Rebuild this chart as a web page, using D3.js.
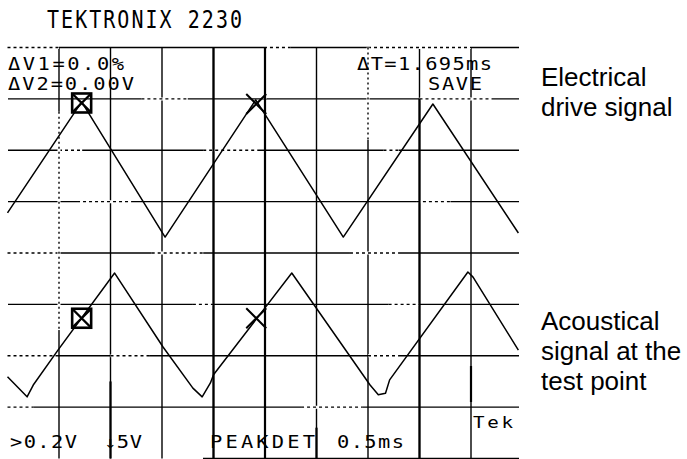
<!DOCTYPE html>
<html><head><meta charset="utf-8">
<script src="https://cdn.jsdelivr.net/npm/d3@7"></script>
<style>html,body{margin:0;padding:0;background:#fff;} svg{display:block;}</style>
</head><body>
<svg id="c" width="687" height="459"></svg>
<script>
// ---- data (time in ms, amplitude in screen divisions) ----
const msPerDiv = 0.5;
const hDivs = d3.range(1, 10);          // vertical graticule lines (time divisions)
const vDivs = d3.range(-4, 5);          // horizontal graticule lines (amplitude divisions)

const driveT = [0, 0.72, 1.53, 2.41, 3.26, 4.13, 4.96];
const driveV = [0.78, 2.94, 0.31, 2.98, 0.31, 2.90, 0.39];

const acousT = [0, 0.19, 0.25, 0.49, 1.04, 1.51, 1.80, 1.89, 1.97, 2.00, 2.76, 3.52, 3.60, 3.67, 3.71, 4.47, 4.52, 4.96];
const acousV = [-2.41, -2.80, -2.57, -1.89, -0.39, -1.83, -2.63, -2.80, -2.53, -2.37, -0.39, -2.57, -2.76, -2.73, -2.47, -0.37, -0.47, -1.89];

const cursorT = [0.72, 2.415];
const cursorDriveV = [2.92, 2.90];
const cursorAcousV = [-1.27, -1.27];

const titleText = "TEKTRONIX 2230";
const readoutTexts = ["ΔV1=0.0%", "ΔV2=0.00V", "ΔT=1.695ms", "SAVE", ">0.2V", "↓5V", "PEAKDET", "0.5ms"];
const tekText = "Tek";
const labelDrive = ["Electrical", "drive signal"];
const labelAcous = ["Acoustical", "signal at the", "test point"];

// ---- scales ----
const x = d3.scaleLinear().domain([0, 10 * msPerDiv]).range([7.5, 522.5]);
const y = d3.scaleLinear().domain([-4, 4]).range([458.5, 47.5]);
const xRight = 519;

const svg = d3.select("#c");
svg.append("defs").append("clipPath").attr("id", "scr")
  .append("rect").attr("x", 0).attr("y", 0).attr("width", xRight).attr("height", 459);

const g = svg.append("g").attr("clip-path", "url(#scr)");

// horizontal graticule
g.selectAll("line.h").data(vDivs).join("line")
  .attr("x1", d => d === -4 ? 203 : 8).attr("x2", xRight)
  .attr("y1", d => y(d)).attr("y2", d => y(d))
  .attr("stroke", "#000").attr("stroke-width", 1.4);

// vertical graticule
g.selectAll("line.v").data(hDivs).join("line")
  .attr("x1", d => x(d * msPerDiv)).attr("x2", d => x(d * msPerDiv))
  .attr("y1", y(4)).attr("y2", y(-4))
  .attr("stroke", "#000").attr("stroke-width", 1.4);

// dotted (faded) graticule segments: [amplitude div, from time div, to time div]
const hDots = [[4,0,1],[4,4.98,5.5],[4,7,9],[3,2.6,3.5],[3,8,9.4],[2,1.0,1.45],[2,3.8,4.85],[2,7.3,7.6],
  [1,1.35,2.4],[1,7.95,8.6],[0,0,0.98],[0,2.8,3.8],[0,6.65,7.6],[-1,3.6,4.0],[-1,7.4,8.0],
  [-2,0,0.98],[-2,2,2.75],[-2,7.0,7.6],[-3,0,0.5],[-3,5.7,6.9]];
hDots.forEach(([v, a, b]) => {
  g.append("line").attr("x1", x(a*msPerDiv)).attr("x2", x(b*msPerDiv)).attr("y1", y(v)).attr("y2", y(v))
    .attr("stroke", "#fff").attr("stroke-width", 3);
  g.append("line").attr("x1", x(a*msPerDiv)).attr("x2", x(b*msPerDiv)).attr("y1", y(v)).attr("y2", y(v))
    .attr("stroke", "#000").attr("stroke-width", 1.4).attr("stroke-dasharray", "3,3");
});
// vertical dotted segments: [time div, from amp, to amp]
const vDots = [[1, 2.75, -1.5], [7, 4, 2.2], [5, 3.7, 3.0]];
vDots.forEach(([t, a, b]) => {
  g.append("line").attr("x1", x(t*msPerDiv)).attr("x2", x(t*msPerDiv)).attr("y1", y(a)).attr("y2", y(b))
    .attr("stroke", "#fff").attr("stroke-width", 3);
  g.append("line").attr("x1", x(t*msPerDiv)).attr("x2", x(t*msPerDiv)).attr("y1", y(a)).attr("y2", y(b))
    .attr("stroke", "#000").attr("stroke-width", 1.4).attr("stroke-dasharray", "2,3");
});
// thicker (cursor-highlighted) vertical segments: [time div, from amp, to amp]
const vThick = [[4, 4, -4], [5, 4, -4], [8, 3, -4], [2, -2.5, -4], [6, -3.4, -4], [9, -2.2, -2.9]];
vThick.forEach(([t, a, b]) => {
  g.append("line").attr("x1", x(t*msPerDiv)).attr("x2", x(t*msPerDiv)).attr("y1", y(a)).attr("y2", y(b))
    .attr("stroke", "#000").attr("stroke-width", 2.2);
});

// traces
const line = d3.line().x(d => x(d[0])).y(d => y(d[1]));
g.append("path").datum(driveT.map((t, i) => [t, driveV[i]]))
  .attr("d", line).attr("fill", "none").attr("stroke", "#000").attr("stroke-width", 1.5)
  .attr("stroke-linejoin", "round");
g.append("path").datum(acousT.map((t, i) => [t, acousV[i]]))
  .attr("d", line).attr("fill", "none").attr("stroke", "#000").attr("stroke-width", 1.5)
  .attr("stroke-linejoin", "round");

// cursor markers: box at first cursor, X at second
[cursorDriveV[0], cursorAcousV[0]].forEach(v => {
  const cx = x(cursorT[0]), cy = y(v), s = 9.5;
  g.append("rect").attr("x", cx - s).attr("y", cy - s).attr("width", 2*s).attr("height", 2*s)
    .attr("fill", "none").attr("stroke", "#000").attr("stroke-width", 2.6);
  g.append("path").attr("d", `M${cx-s},${cy-s}L${cx+s},${cy+s}M${cx+s},${cy-s}L${cx-s},${cy+s}`)
    .attr("stroke", "#000").attr("stroke-width", 2.4);
});
[cursorDriveV[1], cursorAcousV[1]].forEach(v => {
  const cx = x(cursorT[1]), cy = y(v), s = 10;
  g.append("path").attr("d", `M${cx-s},${cy-s}L${cx+s},${cy+s}M${cx+s},${cy-s}L${cx-s},${cy+s}`)
    .attr("stroke", "#000").attr("stroke-width", 2);
});

// readout text (oscilloscope character generator: wide, thin)
const mono = "'DejaVu Sans Mono', monospace";
svg.append("text").attr("transform", "translate(47,28) scale(1,1.25)").text(titleText)
  .attr("font-family", mono).attr("font-size", 20).attr("textLength", 195).attr("lengthAdjust", "spacing");

const sx = 1.2;
const readLayout = [[8,70,116],[8,90,126],[357,70,135],[428,90,54],[10,448,67],[104,448,38],[210,448,105],[337,448,67]];
readoutTexts.forEach((t, i) => {
  const [px, py, len] = readLayout[i];
  svg.append("text").attr("transform", `translate(${px},${py}) scale(${sx},1)`).text(t)
    .attr("font-family", mono).attr("font-size", 17)
    .attr("textLength", len / sx).attr("lengthAdjust", "spacing");
});
svg.append("text").attr("transform", `translate(473,428) scale(${sx},1)`).text(tekText)
  .attr("font-family", mono).attr("font-size", 16).attr("textLength", 40 / sx).attr("lengthAdjust", "spacing");

// side labels
const sans = "'Liberation Sans', Arial, sans-serif";
const lab = svg.append("g").attr("font-family", sans).attr("font-size", 26).attr("fill", "#000");
[86, 116].forEach((by, i) => lab.append("text").attr("x", 541).attr("y", by).text(labelDrive[i]));
[330, 360, 390].forEach((by, i) => lab.append("text").attr("x", 541).attr("y", by).text(labelAcous[i]));
</script>
</body></html>
